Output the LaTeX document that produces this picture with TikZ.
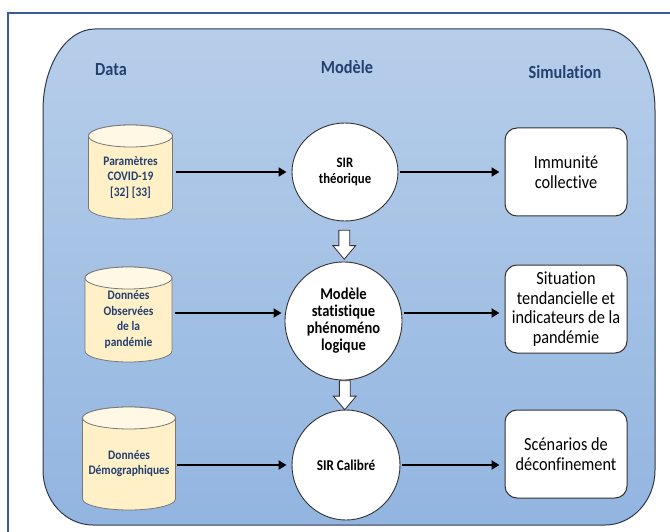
\documentclass[tikz,border=0pt]{standalone}
\usepackage{fontspec}
\setmainfont{Carlito}[FakeStretch=0.88, Ligatures=NoCommon]
\usetikzlibrary{arrows.meta,shapes.geometric,shapes.arrows,calc}

\definecolor{framecol}{RGB}{60,92,150}
\definecolor{paneltop}{RGB}{183,206,234}
\definecolor{panelbot}{RGB}{146,181,224}
\definecolor{paneledge}{RGB}{45,55,75}
\definecolor{headcol}{RGB}{36,64,112}
\definecolor{cylbody}{RGB}{255,240,200}
\definecolor{cyltop}{RGB}{255,248,228}
\definecolor{cyledge}{RGB}{120,120,120}
\definecolor{shapeedge}{RGB}{50,50,50}

\tikzset{
  header/.style={font=\fontsize{18.5}{20}\selectfont\bfseries, text=headcol},
  cyltext/.style={font=\fontsize{13}{15.5}\selectfont\bfseries, text=headcol,
    align=center, inner sep=0pt},
  model/.style={ellipse, draw=shapeedge, line width=0.9pt, fill=white,
    align=center, inner sep=0pt, font=\bfseries},
  result/.style={rectangle, rounded corners=12pt, draw=shapeedge, line width=1pt,
    fill=white, align=center, minimum width=122pt, minimum height=88pt,
    font=\fontsize{18.5}{19.5}\selectfont},
  flow/.style={line width=2.6pt, -{Triangle[length=8pt,width=9pt]}},
  downarrow/.style={single arrow, draw=shapeedge, line width=0.8pt, fill=white,
    rotate=-90, inner sep=5pt, single arrow head extend=6pt,
    single arrow tip angle=80, minimum height=29pt},
}

% database cylinder: #1 name, #2 centre x, #3 top y, #4 bottom y, #5 width, #6 text
\newcommand{\dbcyl}[6]{%
  \pgfmathsetmacro{\cylL}{#2-#5/2}%
  \pgfmathsetmacro{\cylR}{#2+#5/2}%
  \pgfmathsetmacro{\cylA}{#3+11}%
  \pgfmathsetmacro{\cylB}{#4-11}%
  \pgfmathsetmacro{\cylM}{(#3+#4)/2+5}%
  \filldraw[fill=cylbody, draw=cyledge, line width=0.8pt]
    (\cylL,\cylA) -- (\cylL,\cylB)
    arc[start angle=180, end angle=0, x radius=#5/2, y radius=11]
    -- (\cylR,\cylA)
    arc[start angle=0, end angle=-180, x radius=#5/2, y radius=11] -- cycle;
  \filldraw[fill=cyltop, draw=cyledge, line width=0.8pt]
    (#2,\cylA) ellipse[x radius=#5/2, y radius=11];
  \node[cyltext, minimum width=#5pt] (#1) at (#2,\cylM) {#6};
}

\begin{document}
\begin{tikzpicture}[x=1pt, y=-1pt]
  \useasboundingbox (0,0) rectangle (670,532);

  % outer frame (only its top and left edges fall inside the page)
  \draw[framecol, line width=1.6pt] (8,540) -- (8,13) -- (680,13);

  % shaded panel with tall rounded top corners
  \draw[draw=paneledge, line width=1pt, top color=paneltop, bottom color=panelbot]
    (43,110) arc[start angle=180, end angle=270, x radius=52, y radius=81]
    -- (603,29) arc[start angle=270, end angle=360, x radius=52, y radius=81]
    -- (655,470) arc[start angle=0, end angle=90, x radius=50, y radius=55]
    -- (93,525) arc[start angle=90, end angle=180, x radius=50, y radius=55]
    -- cycle;

  % column titles
  \node[header] (hdata) at (111,70) {Data};
  \node[header] (hmodel) at (347,67) {Modèle};
  \node[header] (hsim) at (565,72) {Simulation};

  % data sources
  \dbcyl{d1}{130.5}{125}{219}{84}{Paramètres\\COVID-19\\{}[32] [33]}
  \dbcyl{d2}{128.5}{267}{362}{87}{Données\\Observées\\de la\\pandémie}
  \dbcyl{d3}{129}{407}{510}{93}{Données\\Démographiques}

  % models
  \node[model, minimum width=106pt, minimum height=98pt,
        font=\fontsize{14.5}{16}\selectfont\bfseries] (m1) at (345,172)
        {SIR\\théorique};
  \node[model, minimum width=117pt, minimum height=118pt,
        font=\fontsize{16.5}{17}\selectfont\bfseries] (m2) at (343.5,321)
        {Modèle\\statistique\\phénoméno\\logique};
  \node[model, minimum width=108pt, minimum height=110pt,
        font=\fontsize{15}{16}\selectfont\bfseries] (m3) at (346,465)
        {SIR Calibré};

  % simulation outputs
  \node[result] (r1) at (566,172) {Immunité\\collective};
  \node[result] (r2) at (566,309) {Situation\\tendancielle et\\indicateurs de la\\pandémie};
  \node[result] (r3) at (566,454) {Scénarios de\\déconfinement};

  % horizontal flows
  \draw[flow] (d1.east |- m1) ++(3,0) -- ($(m1.west)+(-5,0)$);
  \draw[flow] ($(m1.east)+(2,0)$) -- ($(m1.east -| r1.west)+(-5,0)$);
  \draw[flow] (d2.east |- m2.west) ++(3,-8) -- ($(m2.west)+(-3,-8)$);
  \draw[flow] ($(m2.east)+(2,-8)$) -- ($(m2.east -| r2.west)+(-5,-8)$);
  \draw[flow] (d3.east |- m3) ++(1,0) -- ($(m3.west)+(-5,0)$);
  \draw[flow] ($(m3.east)+(2,0)$) -- ($(m3.east -| r3.west)+(-5,0)$);

  % refinement arrows between models
  \node[downarrow] (a12) at ($(m1.south)!0.5!(m2.north)$) {};
  \node[downarrow] (a23) at ($(m2.south)!0.5!(m3.north)+(0,-3)$) {};
\end{tikzpicture}
\end{document}
